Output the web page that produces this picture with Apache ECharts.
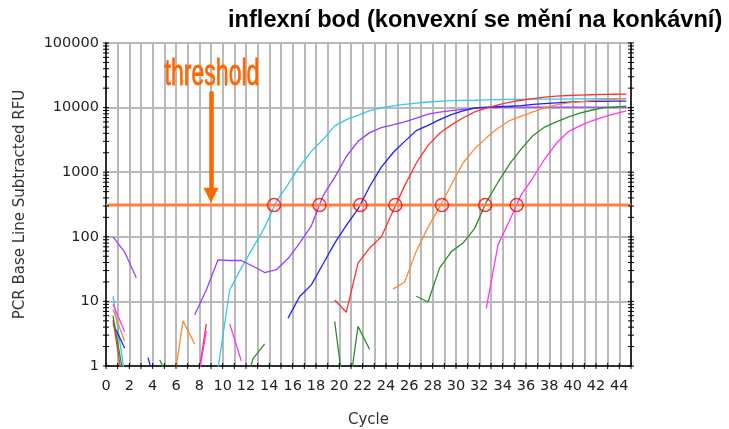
<!DOCTYPE html>
<html>
<head>
<meta charset="utf-8">
<script src="https://cdn.jsdelivr.net/npm/echarts@6/dist/echarts.min.js"></script>
<style>
  html, body { margin: 0; padding: 0; background: #fff; }
  #chart { width: 729px; height: 429px; }
</style>
</head>
<body>
<div id="chart"></div>
<script>
// Real-time PCR amplification curves, baseline-subtracted RFU on a log scale.
const titleText = 'inflexní bod (konvexní se mění na konkávní)';
const xName = 'Cycle';
const yName = 'PCR Base Line Subtracted RFU';

// Each reading is plotted slightly before its cycle gridline.
const cycleX = Array.from({ length: 45 }, (_, i) => +(i + 0.6).toFixed(1));

const _ = null; // no reading (value not positive)

const cyan    = [12, 0.75, _, _, _, _, _, _, _, 0.9, 15, 33, 68, 140, 350, 650, 1230, 2100, 3200, 5200, 6500, 7600, 9000, 9900, 10600, 11200, 11700, 12200, 12500, 12800, 12900, 13000, 13200, 13300, 13400, 13400, 13500, 13500, 13500, 13600, 13600, 13600, 13700, 13700, 13700];
const purple  = [100, 58, 23, _, _, _, _, 6.2, 15, 44, 43, 43, 35, 28, 31, 46, 80, 148, 430, 830, 1750, 3000, 4100, 4900, 5400, 6000, 6900, 7900, 8500, 9000, 9400, 9800, 10000, 10100, 10200, 10200, 10200, 10200, 10200, 10200, 10200, 10200, 10200, 10200, 10200];
const blue    = [4.5, 1.9, _, 1.35, 0.3, _, _, _, _, _, _, _, _, _, _, 5.5, 11.9, 18, 38, 80, 150, 270, 600, 1200, 2000, 3000, 4400, 5300, 6500, 7800, 8900, 9800, 10200, 10400, 10500, 10700, 11200, 11500, 11800, 12100, 12400, 12500, 12500, 12600, 12600];
const red     = [5.2, 0.35, _, _, _, _, _, 0.3, 4.5, _, _, _, _, _, _, _, _, _, _, 10.5, 6.8, 39, 67, 100, 250, 620, 1390, 2600, 4000, 5400, 6900, 8600, 9800, 11000, 12200, 13000, 13800, 14500, 15000, 15400, 15600, 15800, 16000, 16100, 16200];
const orange  = [7.5, 2.4, _, _, _, 0.3, 5.0, 2.2, _, _, _, _, _, _, _, _, _, _, _, _, _, _, _, _, 15.5, 20, 60, 140, 290, 640, 1390, 2300, 3400, 4800, 6300, 7400, 8600, 10000, 11000, 11800, 12300, 12800, 13200, 13500, 13900];
const green   = [6, 0.55, _, _, 1.25, 0.5, _, _, _, _, _, 0.3, 1.3, 2.2, _, _, _, _, _, 4.9, 0.2, 4.1, 1.8, _, _, _, 12, 9.8, 33, 59, 80, 135, 345, 700, 1350, 2300, 3700, 5000, 6000, 7100, 8200, 9100, 9900, 10200, 10500];
const magenta = [9, 3.4, _, _, _, _, _, 0.3, 3.5, _, 4.5, 1.2, _, _, _, _, _, _, _, _, _, _, _, _, _, _, _, _, _, _, _, _, 7.8, 75, 180, 450, 820, 1600, 2800, 4200, 5200, 6200, 7100, 8000, 8900];

// Threshold and the cycles where each curve crosses it.
const threshold = 310;
const crossingCycles = [14.4, 18.3, 21.8, 24.8, 28.8, 32.5, 35.2];

// Annotation arrow pointing at the threshold line.
const arrowCycle = 9;
const arrowTop = 17800;
const arrowTip = 440;
const arrowLabel = 'threshold';

// Axis ticks.
const xMin = 0, xMax = 45;
const decades = [1, 10, 100, 1000, 10000, 100000];
const minorSteps = [2, 3, 4, 5, 6, 7, 8, 9];

const curves = [
  { name: 'cyan', values: cyan, color: '#35c6f4' },
  { name: 'purple', values: purple, color: '#9b3dff' },
  { name: 'blue', values: blue, color: '#1f1fff' },
  { name: 'red', values: red, color: '#ff3333' },
  { name: 'orange', values: orange, color: '#ff8833' },
  { name: 'green', values: green, color: '#2a8f2a' },
  { name: 'magenta', values: magenta, color: '#ff33ff' }
];

const tickValuesY = [];
decades.forEach((d, i) => {
  tickValuesY.push(d);
  if (i < decades.length - 1) minorSteps.forEach(m => tickValuesY.push(d * m));
});
const tickValuesX = [];
for (let c = xMin; c <= xMax; c++) tickValuesX.push(c);

const labelFont = { fontFamily: 'DejaVu Sans', fontSize: 14.5, color: '#222' };
const gridColor = '#b9b9b9';

const chart = echarts.init(document.getElementById('chart'), null, { renderer: 'canvas' });

const lineSeries = curves.map(c => ({
  name: c.name,
  type: 'line',
  data: c.values.map((v, i) => [cycleX[i], v]),
  showSymbol: false,
  connectNulls: false,
  clip: true,
  lineStyle: { color: c.color, width: 1.3 },
  itemStyle: { color: c.color },
  silent: true,
  z: 3
}));

chart.setOption({
  animation: false,
  backgroundColor: '#fff',
  title: {
    text: titleText,
    left: 223,
    top: 3,
    textStyle: { fontFamily: 'Liberation Sans', fontWeight: 'bold', fontSize: 23.6, color: '#000' }
  },
  grid: { left: 106, right: 98, top: 43, bottom: 63, outerBoundsMode: 'none' },
  xAxis: {
    type: 'value',
    min: xMin,
    max: xMax,
    interval: 1,
    name: xName,
    nameLocation: 'middle',
    nameGap: 47,
    nameTextStyle: { fontFamily: 'DejaVu Sans', fontSize: 15, color: '#333' },
    axisLine: { show: true, onZero: false, lineStyle: { color: '#000', width: 1.5 } },
    axisTick: { show: false },
    axisLabel: Object.assign({ margin: 13, formatter: v => (v % 2 === 0 ? String(v) : '') }, labelFont),
    splitLine: { show: true, lineStyle: { color: gridColor, width: 2 } }
  },
  yAxis: [
    {
      type: 'log',
      logBase: 10,
      min: 1,
      max: 100000,
      position: 'left',
      name: yName,
      nameLocation: 'middle',
      nameGap: 78,
      nameTextStyle: { fontFamily: 'DejaVu Sans', fontSize: 15, color: '#333' },
      axisLine: { show: true, onZero: false, lineStyle: { color: '#000', width: 1.5 } },
      axisTick: { show: false },
      axisLabel: Object.assign({ margin: 7, formatter: v => String(Math.round(v)) }, labelFont),
      splitLine: { show: true, lineStyle: { color: gridColor, width: 2 } }
    },
    {
      type: 'log',
      logBase: 10,
      min: 1,
      max: 100000,
      position: 'right',
      axisLine: { show: true, onZero: false, lineStyle: { color: '#000', width: 1.5 } },
      axisTick: { show: false },
      axisLabel: { show: false },
      splitLine: { show: false }
    }
  ],
  series: [
    ...lineSeries,
    {
      name: 'threshold',
      type: 'line',
      data: [[xMin, threshold], [xMax, threshold]],
      showSymbol: false,
      silent: true,
      lineStyle: { color: '#ff8040', width: 3 },
      z: 4,
      markLine: {
        silent: true,
        symbol: ['none', 'triangle'],
        symbolSize: 15,
        label: { show: false },
        lineStyle: { color: '#ff6600', width: 4.5, type: 'solid' },
        data: [[{ coord: [arrowCycle, arrowTop] }, { coord: [arrowCycle, arrowTip] }]]
      }
    },
    {
      name: 'crossings',
      type: 'scatter',
      data: crossingCycles.map(c => [c, threshold]),
      symbol: 'circle',
      symbolSize: 13,
      itemStyle: { color: 'rgba(0,0,0,0)', borderColor: '#ff0000', borderWidth: 1.5 },
      silent: true,
      z: 5
    },
    {
      // tick marks crossing the left, right and bottom axes
      name: 'ticks',
      type: 'custom',
      silent: true,
      z: 6,
      data: [[xMin, 1]],
      renderItem: (params, api) => {
        const children = [];
        const add = (p, dx, dy) => children.push({
          type: 'line',
          shape: { x1: p[0] - dx, y1: p[1] - dy, x2: p[0] + dx, y2: p[1] + dy },
          style: { stroke: '#000', lineWidth: 1 }
        });
        tickValuesY.forEach(v => {
          add(api.coord([xMin, v]), 3, 0);
          add(api.coord([xMax, v]), 3, 0);
        });
        tickValuesX.forEach(c => add(api.coord([c, 1]), 0, 3));
        return { type: 'group', children };
      }
    }
  ]
});

// Label above the arrow, placed from the arrow's data position.
const arrowTopPx = chart.convertToPixel({ xAxisIndex: 0, yAxisIndex: 0 }, [arrowCycle, arrowTop]);
chart.setOption({
  graphic: [{
    type: 'text',
    x: arrowTopPx[0] + 1,
    y: arrowTopPx[1] - 16,
    scaleX: 0.64,
    silent: true,
    style: {
      text: arrowLabel,
      fontFamily: 'Liberation Sans',
      fontSize: 36,
      fill: '#ff6600',
      stroke: '#ff6600',
      lineWidth: 0.8,
      align: 'center',
      verticalAlign: 'middle'
    }
  }]
});
</script>
</body>
</html>
